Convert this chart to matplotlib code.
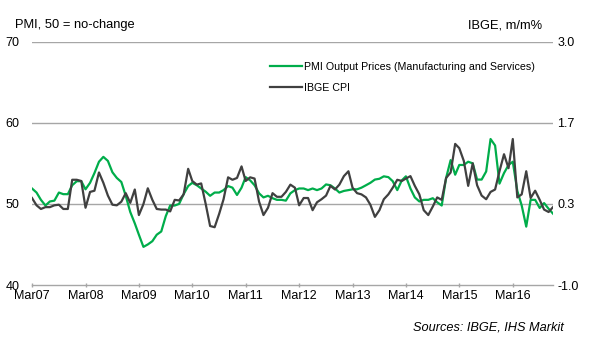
import matplotlib
matplotlib.use("Agg")
import matplotlib.pyplot as plt
from matplotlib.lines import Line2D
import pandas as pd

plt.rcParams['font.family'] = ['Liberation Sans', 'DejaVu Sans']

start_month = "2007-03"
n_months = 118

pmi_output_prices = [
    51.9, 51.4, 50.5, 49.8, 50.3, 50.4, 51.4, 51.2, 51.2, 52.3,
    52.8, 52.8, 51.8, 52.6, 53.8, 55.2, 55.8, 55.3, 53.9, 53.2,
    52.7, 51.0, 49.0, 47.6, 46.2, 44.7, 45.0, 45.4, 46.2, 46.6,
    48.5, 49.8, 49.8, 50.0, 51.2, 52.2, 52.6, 52.3, 51.9, 51.5,
    51.0, 51.4, 51.4, 51.7, 52.2, 52.0, 51.1, 52.0, 53.3, 52.9,
    52.3, 51.3, 50.8, 51.0, 50.7, 50.5, 50.5, 50.4, 51.3, 51.7,
    51.9, 51.9, 51.7, 51.9, 51.7, 51.9, 52.4, 52.3, 51.9, 51.4,
    51.6, 51.7, 51.8, 51.8, 52.0, 52.3, 52.6, 53.0, 53.1, 53.4,
    53.3, 52.8, 51.7, 52.9, 53.4, 51.9, 50.8, 50.3, 50.5, 50.5,
    50.7, 50.2, 49.8, 53.2, 55.4, 53.6, 54.8, 54.8, 55.2, 55.0,
    53.0, 53.0, 54.0, 58.0, 57.2, 52.5, 53.8, 54.8, 55.2, 51.6,
    49.8, 47.2, 50.5, 50.5, 49.5, 50.1, 49.4, 48.8,
]

ibge_cpi = [
    0.43, 0.31, 0.25, 0.28, 0.28, 0.31, 0.32, 0.25, 0.25, 0.73,
    0.73, 0.71, 0.27, 0.53, 0.55, 0.85, 0.68, 0.47, 0.32, 0.31,
    0.37, 0.51, 0.35, 0.57, 0.15, 0.33, 0.59, 0.40, 0.25, 0.24,
    0.24, 0.21, 0.40, 0.39, 0.49, 0.91, 0.71, 0.65, 0.67, 0.33,
    -0.03, -0.05, 0.17, 0.41, 0.77, 0.73, 0.76, 0.95, 0.71, 0.77,
    0.75, 0.37, 0.15, 0.27, 0.51, 0.45, 0.45, 0.53, 0.65, 0.60,
    0.31, 0.43, 0.43, 0.23, 0.36, 0.41, 0.47, 0.63, 0.57, 0.65,
    0.79, 0.87, 0.60, 0.51, 0.49, 0.44, 0.32, 0.12, 0.23, 0.41,
    0.49, 0.60, 0.73, 0.71, 0.75, 0.79, 0.63, 0.49, 0.23, 0.15,
    0.29, 0.44, 0.40, 0.76, 0.85, 1.32, 1.25, 1.04, 0.63, 1.00,
    0.64, 0.47, 0.41, 0.53, 0.57, 0.87, 1.15, 0.92, 1.40, 0.44,
    0.49, 0.87, 0.43, 0.55, 0.40, 0.24, 0.20, 0.28,
]

left_ticks = [40, 50, 60, 70]
left_tick_labels = ["40", "50", "60", "70"]
right_ticks = [-1.0, 1/3, 5/3, 3.0]
right_tick_labels = ["-1.0", "0.3", "1.7", "3.0"]
tick_years = list(range(2007, 2017))

series_names = ["PMI Output Prices (Manufacturing and Services)", "IBGE CPI"]
left_title = "PMI, 50 = no-change"
right_title = "IBGE, m/m%"
source_text = "Sources: IBGE, IHS Markit"

GREEN = "#00AD4A"
DARK = "#404040"
GRID = "#A6A6A6"

dates = pd.date_range(start_month, periods=n_months, freq="MS")

W, H = 590, 353
fig = plt.figure(figsize=(W / 100, H / 100), dpi=100)
L, R, T, B = 32, 553, 41.7, 285
ax = fig.add_axes([L / W, 1 - B / H, (R - L) / W, (B - T) / H])
ax2 = ax.twinx()

for y in left_ticks[1:]:
    ax.axhline(y, color=GRID, lw=1.0, zorder=1)

ax.plot(dates, pmi_output_prices, color=GREEN, lw=1.6, zorder=2)
ax2.plot(dates, ibge_cpi, color=DARK, lw=1.6, zorder=3)

ax.set_xlim(dates[0], dates[-1])
ax.set_ylim(40, 70)
ax2.set_ylim(-1.0, 3.0)

ax.set_yticks(left_ticks)
ax.set_yticklabels(left_tick_labels)
ax2.set_yticks(right_ticks)
ax2.set_yticklabels(right_tick_labels)

xt = [pd.Timestamp(year=y, month=3, day=1) for y in tick_years]
ax.set_xticks(xt)
ax.set_xticklabels(["Mar" + str(y)[2:] for y in tick_years])

for a in (ax, ax2):
    for s in a.spines.values():
        s.set_visible(False)
ax.spines["bottom"].set_visible(True)
ax.spines["bottom"].set_color(GRID)
ax.spines["bottom"].set_linewidth(1.0)

ax.tick_params(axis="y", length=0, pad=9, labelsize=9, colors="black")
ax2.tick_params(axis="y", length=0, pad=3, labelsize=9, colors="black")
ax.tick_params(axis="x", length=3, direction="inout", color=GRID, width=1,
               pad=2, labelsize=9, labelcolor="black")

fig.text(15 / W, 1 - 25 / H, left_title, ha="left", va="center", fontsize=9.3)
fig.text(542 / W, 1 - 25 / H, right_title, ha="right", va="center", fontsize=9.3)
fig.text(564 / W, 1 - 327 / H, source_text, ha="right", va="center",
         fontsize=9.2, style="italic")

handles = [Line2D([], [], color=GREEN, lw=1.6), Line2D([], [], color=DARK, lw=1.6)]
fig.legend(handles, series_names, loc="upper left",
           bbox_to_anchor=(270 / W, 1 - 62 / H), frameon=False,
           fontsize=7.7, handlelength=3.0, handletextpad=0.2,
           labelspacing=1.05, borderpad=0, borderaxespad=0)

fig.savefig("out.png", dpi=100)
